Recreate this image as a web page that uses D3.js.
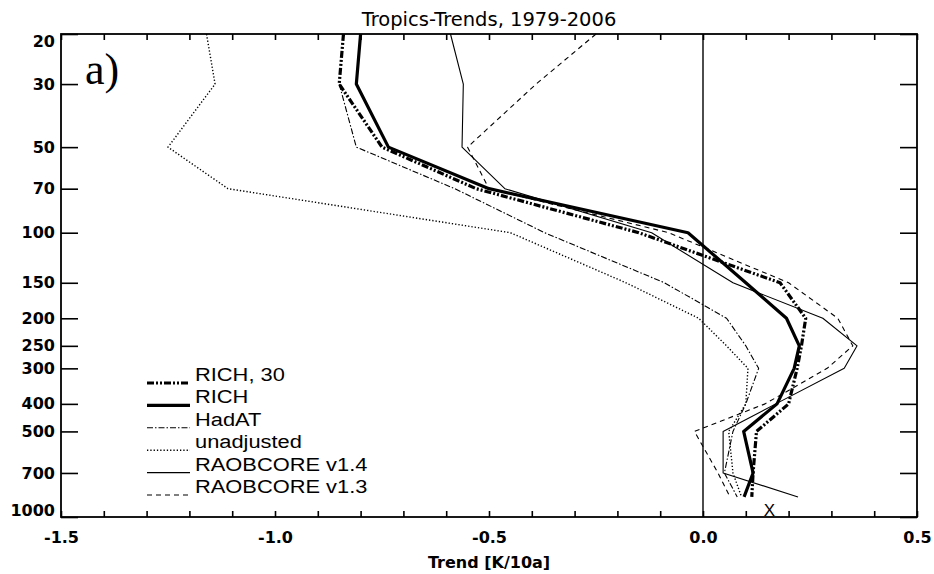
<!DOCTYPE html>
<html>
<head>
<meta charset="utf-8">
<script src="https://cdn.jsdelivr.net/npm/d3@7"></script>
<style>
  body { margin: 0; background: #fff; }
  svg text { fill: #000; }
</style>
</head>
<body>
<svg id="chart" width="934" height="574"></svg>
<script>
// pressure levels (hPa) and trends (K/10a)
const levels     = [20, 30, 50, 70, 100, 150, 200, 250, 300, 400, 500, 700, 850];
const rich30     = [-0.84, -0.85, -0.75, -0.53, -0.15, 0.18, 0.24, 0.23, 0.22, 0.20, 0.125, 0.117, 0.114];
const rich       = [-0.80, -0.81, -0.735, -0.50, -0.035, 0.10, 0.195, 0.225, 0.213, 0.173, 0.095, 0.117, 0.096];
const hadat      = [null, -0.85, -0.81, -0.58, -0.37, -0.09, 0.055, 0.10, 0.13, 0.10, 0.07, 0.05, 0.08];
const unadjusted = [-1.16, -1.14, -1.25, -1.11, -0.45, -0.18, -0.01, 0.055, 0.105, 0.10, 0.06, 0.07, 0.09];
const raob14     = [-0.59, -0.56, -0.563, -0.463, -0.12, 0.07, 0.28, 0.36, 0.33, 0.17, 0.047, 0.047, 0.222];
const raob13     = [-0.25, -0.39, -0.55, -0.50, -0.08, 0.20, 0.315, 0.35, 0.29, 0.145, -0.02, 0.035, 0.063];

const seriesNames = ["RICH, 30", "RICH", "HadAT", "unadjusted", "RAOBCORE v1.4", "RAOBCORE v1.3"];
const seriesValues = [rich30, rich, hadat, unadjusted, raob14, raob13];

// the little "X" near the surface
const markerTrend = [0.155];
const markerLevel = [1000];

const xTickValues = d3.range(-15, 6).map(d => d / 10);
const yTickValues = [20, 30, 50, 70, 100, 150, 200, 250, 300, 400, 500, 700, 1000];

// line styles, same order as seriesNames
const styles = [
  { w: 3.2, dash: "7,2,2,2,2,2" },
  { w: 3.2, dash: null },
  { w: 1.1, dash: "6,2,1.5,2" },
  { w: 1.4, dash: "1.3,2" },
  { w: 1.1, dash: null },
  { w: 1.1, dash: "5,4" }
];

const plotLeft = 61, plotRight = 917, plotTop = 34, plotBottom = 517;

const svg = d3.select("#chart");

const x = d3.scaleLinear().domain([-1.5, 0.5]).range([plotLeft, plotRight]);
const y = d3.scaleLog().domain([20, 1000]).range([plotTop, plotBottom]);

// axes
const gx = svg.append("g")
  .attr("transform", "translate(0," + plotBottom + ")")
  .call(d3.axisBottom(x).tickValues(xTickValues).tickSize(-6).tickPadding(15)
    .tickFormat(d => Math.abs(d * 2 - Math.round(d * 2)) < 1e-6 ? d.toFixed(1) : ""));

const gxTop = svg.append("g")
  .attr("transform", "translate(0," + plotTop + ")")
  .call(d3.axisTop(x).tickValues(xTickValues).tickSize(-6).tickFormat(""));

const gy = svg.append("g")
  .attr("transform", "translate(" + plotLeft + ",0)")
  .call(d3.axisLeft(y).tickValues(yTickValues).tickSize(-17).tickPadding(6)
    .tickFormat(d3.format("d")));

gy.selectAll(".tick text")
  .attr("y", d => d === 20 ? 7 : (d === 1000 ? -7 : 0));

const gyRight = svg.append("g")
  .attr("transform", "translate(" + plotRight + ",0)")
  .call(d3.axisRight(y).tickValues(yTickValues).tickSize(-17).tickFormat(""));

[gx, gxTop, gy, gyRight].forEach(g => {
  g.select(".domain").remove();
  g.selectAll(".tick line").attr("stroke", "#000").attr("stroke-width", 1.6);
  g.selectAll(".tick text")
    .style("font-family", "'DejaVu Sans', sans-serif")
    .style("font-weight", "bold")
    .style("font-size", "16px");
});

// frame
svg.append("rect")
  .attr("x", plotLeft).attr("y", plotTop)
  .attr("width", plotRight - plotLeft).attr("height", plotBottom - plotTop)
  .attr("fill", "none").attr("stroke", "#000").attr("stroke-width", 1.8);

// zero line
svg.append("line")
  .attr("x1", x(0)).attr("x2", x(0))
  .attr("y1", plotTop).attr("y2", plotBottom)
  .attr("stroke", "#000").attr("stroke-width", 1.4);

// profiles
const line = d3.line()
  .defined(d => d[0] != null)
  .x(d => x(d[0]))
  .y(d => y(d[1]));

seriesValues.forEach((vals, i) => {
  const pts = vals.map((v, j) => [v, levels[j]]);
  svg.append("path")
    .datum(pts)
    .attr("d", line)
    .attr("fill", "none")
    .attr("stroke", "#000")
    .attr("stroke-width", styles[i].w)
    .attr("stroke-linejoin", "round")
    .attr("stroke-dasharray", styles[i].dash);
});

// X marker
svg.selectAll(".marker")
  .data(markerTrend)
  .enter()
  .append("text")
  .attr("class", "marker")
  .attr("x", d => x(d))
  .attr("y", (d, i) => y(markerLevel[i]) - 1)
  .attr("text-anchor", "middle")
  .style("font-family", "'Liberation Sans', Arial, sans-serif")
  .style("font-size", "17px")
  .text("X");

// title and axis label
svg.append("text")
  .attr("x", (plotLeft + plotRight) / 2)
  .attr("y", 26)
  .attr("text-anchor", "middle")
  .style("font-family", "'DejaVu Sans', sans-serif")
  .style("font-size", "19.5px")
  .text("Tropics-Trends, 1979-2006");

svg.append("text")
  .attr("x", (plotLeft + plotRight) / 2)
  .attr("y", 568)
  .attr("text-anchor", "middle")
  .style("font-family", "'DejaVu Sans', sans-serif")
  .style("font-weight", "bold")
  .style("font-size", "16px")
  .text("Trend [K/10a]");

// panel letter
svg.append("text")
  .attr("x", 85)
  .attr("y", 84)
  .style("font-family", "'Liberation Serif', 'DejaVu Serif', serif")
  .style("font-size", "44px")
  .text("a)");

// legend
const legend = svg.selectAll(".legend")
  .data(seriesNames)
  .enter().append("g")
  .attr("class", "legend")
  .attr("transform", (d, i) => "translate(147," + (381 + i * 22.4) + ")");

legend.append("line")
  .attr("x1", 0).attr("x2", 43)
  .attr("y1", 2).attr("y2", 2)
  .attr("stroke", "#000")
  .attr("stroke-width", (d, i) => styles[i].w)
  .attr("stroke-dasharray", (d, i) => styles[i].dash);

legend.append("text")
  .attr("transform", "translate(48,0) scale(1.15,1)")
  .style("font-family", "'Liberation Sans', Arial, sans-serif")
  .style("font-size", "19px")
  .text(d => d);
</script>
</body>
</html>
